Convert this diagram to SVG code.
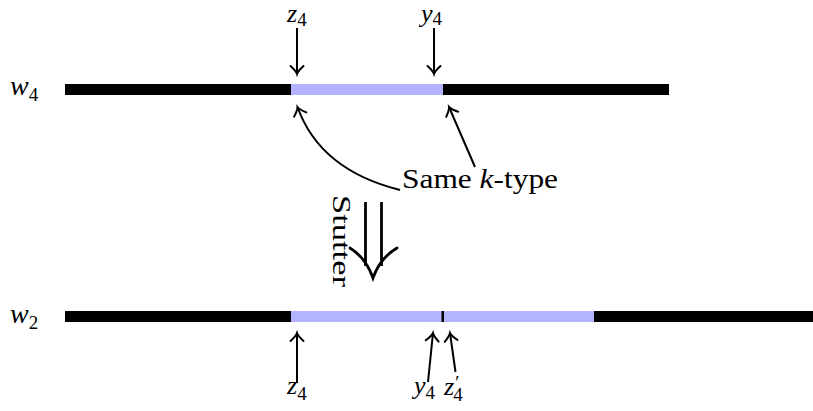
<svg xmlns="http://www.w3.org/2000/svg" width="813" height="411" viewBox="0 0 813 411" font-family="'Liberation Serif', 'DejaVu Serif', serif">
<style>
text{font-family:'Liberation Serif','DejaVu Serif',serif;fill:#000}
.m{font-style:italic}
.sub{font-size:19px;font-style:normal}
.lbl{font-size:26px}
.big{font-size:28px}
.conn path{fill:none;stroke:#000;stroke-width:2}
.blk{fill:#000}
.blu{fill:#b3b3ff}
</style>
<defs>
<marker id="to" markerUnits="userSpaceOnUse" markerWidth="20" markerHeight="20" viewBox="-10 -10 20 20" refX="0" refY="0" orient="auto">
<path d="M -8,-6.5 Q -3,-1 0,0 Q -3,1 -8,6.5" fill="none" stroke="#000" stroke-width="2" stroke-linecap="round"/>
</marker>
</defs>
<g id="w4-bar">
<rect class="blk" x="65" y="84" width="604" height="11"/>
<rect class="blu" x="291" y="84" width="152" height="11"/>
<text class="big m" x="10" y="95">w<tspan class="sub" font-size="20" dy="6">4</tspan></text>
</g>
<g id="w2-bar">
<rect class="blk" x="65" y="311" width="748" height="11"/>
<rect class="blu" x="291" y="311" width="303" height="11"/>
<rect class="blk" x="441.5" y="311" width="2.5" height="11"/>
<text class="big m" x="10" y="323">w<tspan class="sub" font-size="20" dy="6">2</tspan></text>
</g>
<g id="top-z4">
<text class="lbl m" x="287" y="22">z<tspan class="sub" dy="4">4</tspan></text>
</g>
<g id="top-y4">
<text class="lbl m" x="421" y="22">y<tspan class="sub" dy="3">4</tspan></text>
</g>
<g id="bot-z4">
<text class="lbl m" x="287" y="394">z<tspan class="sub" dy="6">4</tspan></text>
</g>
<g id="bot-y4">
<text class="lbl m" x="414" y="394">y<tspan class="sub" dy="5">4</tspan></text>
</g>
<g id="bot-z4p">
<text class="lbl m" x="444" y="395">z<tspan class="sub" font-size="22" dx="1" dy="-6">′</tspan><tspan class="sub" dx="-6" dy="12">4</tspan></text>
</g>
<g id="same-ktype">
<text class="big" x="402" y="188" textLength="156" lengthAdjust="spacingAndGlyphs">Same <tspan class="m">k</tspan>-type</text>
</g>
<g id="stutter">
<text font-size="25" transform="translate(333,195) rotate(90)" textLength="92" lengthAdjust="spacingAndGlyphs">Stutter</text>
<path d="M365.5,202 V266 M381.5,202 V266" fill="none" stroke="#000" stroke-width="2.8"/>
<path d="M350,248 Q366,258 373,278 Q380,258 397,248" fill="none" stroke="#000" stroke-width="2.8" stroke-linecap="round"/>
</g>
<g class="conn" id="connectors">
<path d="M297,28 V74" marker-end="url(#to)"/>
<path d="M434,28 V74" marker-end="url(#to)"/>
<path d="M297,383 V333" marker-end="url(#to)"/>
<path d="M428,382 L433,333" marker-end="url(#to)"/>
<path d="M455.5,372 L450,333" marker-end="url(#to)"/>
<path d="M400,190 Q320,170 297.5,107" marker-end="url(#to)"/>
<path d="M475,167 L449,107" marker-end="url(#to)"/>
</g>
</svg>
